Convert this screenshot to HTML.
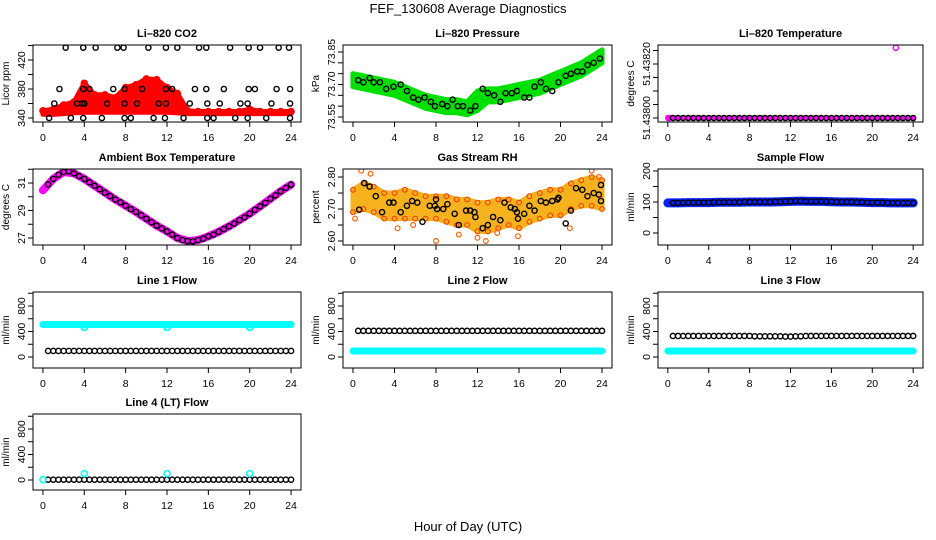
<!DOCTYPE html>
<html><head><meta charset="utf-8">
<style>
html,body{margin:0;padding:0;background:#fff;}
svg{display:block;font-family:"Liberation Sans",Arial,sans-serif;}
</style></head>
<body>
<svg id="fig" width="936" height="540" viewBox="0 0 936 540">
<text x="468" y="13" text-anchor="middle" font-size="13">FEF_130608  Average Diagnostics</text>
<text x="468" y="531" text-anchor="middle" font-size="13">Hour of Day (UTC)</text>
</svg>
<script>
// ---------- data ----------
const hoursHourly = [0,1,2,3,4,5,6,7,8,9,10,11,12,13,14,15,16,17,18,19,20,21,22,23,24];

// CO2
const co2BlackHours = [2.2,3.9,5.1,7.2,7.8,10.2,11.9,13,15.1,15.8,18.1,19.9,21,22.8,23.8,
  1.6,3.9,4.5,6.8,7.9,9.6,11.9,12.5,14.7,15.8,17.5,19.9,20.5,22.6,23.9,
  1.1,3.3,3.8,4,6.2,7.9,9.1,11.2,11.9,14.2,15.9,17.1,19.1,19.8,22.1,23.9,
  0.6,2.7,3.9,5.7,7.9,8.5,10.7,11.8,13.6,15.9,16.5,18.6,19.8,21.6,23.9];
const co2BlackValues = [437,437,437,437,437,437,437,437,437,437,437,437,437,437,437,
  380,380,380,380,380,380,380,380,380,380,380,380,380,380,380,
  360,360,360,360,360,360,360,360,360,360,360,360,360,360,360,360,
  340,340,340,340,340,340,340,340,340,340,340,340,340,340,340];
const co2RedLow  = [345,345,346,347,348,348,348,348,348,348,348,348,348,347,346,346,346,346,346,346,346,346,346,346,346];
const co2RedHigh = [350,352,358,362,388,372,372,368,382,386,394,393,382,374,350,349,349,349,349,349,352,349,349,349,349];

// Pressure
const presBlackHours = [0.5,1,1.6,2,2.6,3.2,3.9,4.6,5.2,5.8,6.3,6.9,7.5,7.9,8.6,9.1,9.6,10.1,10.6,11.3,11.8,12.5,13,13.6,14.2,14.7,15.3,15.8,16.5,17,17.5,18.1,18.6,19.2,19.8,20.5,21,21.6,22.1,22.6,23.2,23.8];
const presBlackValues = [73.72,73.71,73.73,73.71,73.71,73.68,73.69,73.70,73.67,73.64,73.63,73.64,73.62,73.60,73.61,73.60,73.63,73.60,73.60,73.58,73.60,73.68,73.66,73.65,73.62,73.66,73.66,73.67,73.64,73.64,73.69,73.71,73.68,73.67,73.71,73.74,73.75,73.76,73.76,73.79,73.80,73.82];
const presGreenLow  = [73.69,73.68,73.67,73.66,73.65,73.63,73.61,73.59,73.58,73.57,73.57,73.56,73.58,73.62,73.62,73.63,73.64,73.65,73.66,73.68,73.70,73.72,73.74,73.77,73.80];
const presGreenHigh = [73.75,73.74,73.73,73.72,73.71,73.69,73.67,73.65,73.64,73.63,73.63,73.62,73.67,73.68,73.68,73.69,73.70,73.71,73.72,73.74,73.76,73.78,73.80,73.83,73.86];

// Li-820 temperature
const ltempHours = [0.5,1,1.5,2,2.5,3,3.5,4,4.5,5,5.5,6,6.5,7,7.5,8,8.5,9,9.5,10,10.5,11,11.5,12,12.5,13,13.5,14,14.5,15,15.5,16,16.5,17,17.5,18,18.5,19,19.5,20,20.5,21,21.5,22,22.5,23,23.5,24];
const ltempValues = [51.438,51.438,51.438,51.438,51.438,51.438,51.438,51.438,51.438,51.438,51.438,51.438,51.438,51.438,51.438,51.438,51.438,51.438,51.438,51.438,51.438,51.438,51.438,51.438,51.438,51.438,51.438,51.438,51.438,51.438,51.438,51.438,51.438,51.438,51.438,51.438,51.438,51.438,51.438,51.438,51.438,51.438,51.438,51.438,51.438,51.438,51.438,51.438];
const ltempMagHours = [0.05,0.15,22.3];
const ltempMagValues = [51.438,51.438,51.43826];

// Ambient box temperature
const ambHours = [0.5,1,1.5,2,2.5,3,3.5,4,4.5,5,5.5,6,6.5,7,7.5,8,8.5,9,9.5,10,10.5,11,11.5,12,12.5,13,13.5,14,14.5,15,15.5,16,16.5,17,17.5,18,18.5,19,19.5,20,20.5,21,21.5,22,22.5,23,23.5,24];
const ambValues = [30.9,31.3,31.6,31.8,31.85,31.7,31.5,31.3,31.05,30.8,30.55,30.3,30.05,29.8,29.6,29.35,29.1,28.9,28.65,28.4,28.15,27.9,27.7,27.48,27.25,27.0,26.85,26.78,26.76,26.85,26.95,27.12,27.25,27.45,27.65,27.85,28.05,28.3,28.5,28.77,29.05,29.3,29.55,29.85,30.1,30.4,30.65,30.88];
const ambMagenta = [30.47,31.3,31.8,31.7,31.3,30.8,30.3,29.8,29.35,28.9,28.4,27.9,27.48,27.0,26.78,26.85,27.12,27.45,27.85,28.3,28.77,29.3,29.85,30.4,30.88];

// Gas stream RH
const rhBlackHours = [0.6,1.1,1.6,2.2,2.8,3.5,3.9,4.6,5.2,5.7,6.2,6.7,7.4,7.9,8,8.1,8.7,9.1,9.8,10.2,10.9,11.3,11.7,11.8,12.5,13,13.5,14.2,14.6,15.2,15.6,15.8,15.9,16.5,17,17.5,18.1,18.6,19.2,19.7,19.8,20.5,21,21.5,22.1,22.6,23.2,23.7,23.9,23.9];
const rhBlackValues = [2.698,2.781,2.77,2.74,2.69,2.72,2.72,2.69,2.71,2.725,2.72,2.66,2.71,2.71,2.73,2.70,2.70,2.715,2.685,2.65,2.695,2.695,2.69,2.675,2.64,2.65,2.675,2.665,2.72,2.705,2.70,2.69,2.67,2.685,2.71,2.695,2.725,2.72,2.725,2.73,2.735,2.655,2.695,2.765,2.76,2.74,2.75,2.745,2.775,2.725];
const rhOrangeLow  = [2.69,2.70,2.69,2.67,2.67,2.67,2.67,2.67,2.67,2.66,2.65,2.65,2.63,2.63,2.64,2.65,2.64,2.66,2.67,2.68,2.68,2.70,2.71,2.71,2.70];
const rhOrangeHigh = [2.76,2.78,2.77,2.75,2.75,2.76,2.75,2.74,2.74,2.74,2.73,2.73,2.72,2.72,2.73,2.73,2.72,2.74,2.75,2.76,2.76,2.78,2.79,2.80,2.79];
const rhOutHours = [0.2,0.8,1.7,4.3,5.8,8.0,10.2,12.0,12.8,13.9,15.9,20.9,23.0,23.7];
const rhOutValues = [2.67,2.82,2.81,2.64,2.65,2.60,2.62,2.61,2.60,2.625,2.615,2.64,2.82,2.80];

// Sample flow
const sampleValues = [97,97,98,98,98,99,99,99,100,100,100,101,102,103,102,102,101,100,100,99,98,98,97,97,97];

// Line flows (hourly black and cyan)
const line1Black = [95,95,95,95,95,95,95,95,95,95,95,95,95,95,95,95,95,95,95,95,95,95,95,95,95];
const line1Cyan  = [510,510,510,510,510,510,510,510,510,510,510,510,510,510,510,510,510,510,510,510,510,510,510,510,510];
const line1CyanDipHours = [4,12,20];
const line1CyanDipValues = [465,465,465];
const line2Black = [410,410,410,410,410,410,410,410,410,410,410,410,410,410,410,410,410,410,410,410,410,410,410,410,410];
const line2Cyan  = [95,95,95,95,95,95,95,95,95,95,95,95,95,95,95,95,95,95,95,95,95,95,95,95,95];
const line3Black = [330,330,330,330,330,330,330,330,330,325,325,325,320,325,330,330,330,330,330,330,330,330,330,330,330];
const line3Cyan  = [95,95,95,95,95,95,95,95,95,95,95,95,95,95,95,95,95,95,95,95,95,95,95,95,95];
const line4Black = [5,5,5,5,5,5,5,5,5,5,5,5,5,5,5,5,5,5,5,5,5,5,5,5,5];
const line4CyanHours = [0,4,12,20];
const line4CyanValues = [5,100,100,100];

const xTicks = [0,4,8,12,16,20,24];

// ---------- drawing ----------
const NS = 'http://www.w3.org/2000/svg';
const svg = document.getElementById('fig');
function mk(tag, attrs, parent) {
  const e = document.createElementNS(NS, tag);
  for (const k in attrs) e.setAttribute(k, attrs[k]);
  (parent || svg).appendChild(e);
  return e;
}
function panel(key, title, ylab, box, v0, y0, v1, y1, yTicks, yLabels, yFmt) {
  const g = mk('g', {});
  
  
  const [bx0, bx1, by0, by1] = box;
  const xs = h => bx0 + (bx1 - bx0) * (h + 0.96) / 25.92;
  const ys = v => y0 + (v - v0) * (y1 - y0) / (v1 - v0);
  const t = mk('text', {x: (bx0 + bx1) / 2, y: by0 - 8, 'text-anchor': 'middle', 'font-size': 11, 'font-weight': 'bold'}, g);
  t.textContent = title;
  
  
  const yl = mk('text', {x: 0, y: 0, transform: `translate(${bx0 - 24},${(by0 + by1) / 2}) rotate(-90)`, 'text-anchor': 'middle', 'font-size': 10}, g);
  yl.textContent = ylab;
  
  
  const xa = mk('g', {}, g);
  
  
  mk('line', {x1: xs(0), x2: xs(24), y1: by1, y2: by1, stroke: '#000'}, xa);
  xTicks.forEach(h => {
    mk('line', {x1: xs(h), x2: xs(h), y1: by1, y2: by1 + 5, stroke: '#000'}, xa);
    const tl = mk('text', {x: xs(h), y: by1 + 19, 'text-anchor': 'middle', 'font-size': 10.5}, xa);
    tl.textContent = h;
  });
  const ya = mk('g', {}, g);
  
  
  mk('line', {x1: bx0, x2: bx0, y1: ys(yTicks[0]), y2: ys(yTicks[yTicks.length - 1]), stroke: '#000'}, ya);
  yTicks.forEach(v => {
    mk('line', {x1: bx0 - 5, x2: bx0, y1: ys(v), y2: ys(v), stroke: '#000'}, ya);
  });
  yLabels.forEach(v => {
    const tl = mk('text', {x: 0, y: 0, transform: `translate(${bx0 - 8},${ys(v)}) rotate(-90)`, 'text-anchor': 'middle', 'font-size': 10.5}, ya);
    tl.textContent = yFmt ? yFmt(v) : v;
  });
  const clipId = 'c' + key;
  const cp = mk('clipPath', {id: clipId}, g);
  mk('rect', {x: bx0, y: by0, width: bx1 - bx0, height: by1 - by0}, cp);
  const data = mk('g', {'clip-path': `url(#${clipId})`}, g);
  mk('rect', {x: bx0, y: by0, width: bx1 - bx0, height: by1 - by0, fill: 'none', stroke: '#000'}, g);
  return {xs, ys, data};
}
function band(p, hours, lo, hi, color, name) {
  let d = '';
  hours.forEach((h, i) => { d += (i ? 'L' : 'M') + p.xs(h) + ',' + p.ys(hi[i]); });
  for (let i = hours.length - 1; i >= 0; i--) d += 'L' + p.xs(hours[i]) + ',' + p.ys(lo[i]);
  const e = mk('path', {d: d + 'Z', fill: color, stroke: color, 'stroke-width': 5, 'stroke-linejoin': 'round'}, p.data);
  
  
  return e;
}
function thick(p, hours, vals, color, name, w) {
  let d = '';
  hours.forEach((h, i) => { d += (i ? 'L' : 'M') + p.xs(h) + ',' + p.ys(vals[i]); });
  const e = mk('path', {d, fill: 'none', stroke: color, 'stroke-width': w, 'stroke-linejoin': 'round', 'stroke-linecap': 'round'}, p.data);
  
  
  return e;
}
function pts(p, hours, vals, color, name, r, sw) {
  const g = mk('g', {}, p.data);
  
  
  hours.forEach((h, i) => {
    mk('circle', {cx: p.xs(h), cy: p.ys(vals[i]), r: r || 2.6, fill: 'none', stroke: color, 'stroke-width': sw || 1.4}, g);
  });
  return g;
}
const C1 = [33, 301], C2 = [343, 612], C3 = [658, 923];
const R1 = [45, 122], R2 = [169, 245], R3 = [292, 368], R4 = [414, 490];
const B = (c, r) => [c[0], c[1], r[0], r[1]];

// CO2
let p = panel('co2', 'Li\u2013820 CO2', 'Licor ppm', B(C1, R1), 340, 118, 420, 60, [340,360,380,400,420,440], [340,380,420]);
band(p, hoursHourly, co2RedLow, co2RedHigh, '#ff0000', 'co2-red-cloud');
pts(p, hoursHourly, co2RedHigh, '#ff0000', 'co2-red-points', 3, 1.5);
pts(p, co2BlackHours, co2BlackValues, '#000', 'co2-black-points');

// Pressure
p = panel('pressure', 'Li\u2013820 Pressure', 'kPa', B(C2, R1), 73.55, 117, 73.85, 52, [73.55,73.60,73.65,73.70,73.75,73.80,73.85], [73.55,73.70,73.85], v => v.toFixed(2));
band(p, hoursHourly, presGreenLow, presGreenHigh, '#00e000', 'pressure-green-cloud');
pts(p, presBlackHours, presBlackValues, '#000', 'pressure-black-points');

// Li-820 temperature
p = panel('litemp', 'Li\u2013820 Temperature', 'degrees C', B(C3, R1), 51.438, 118, 51.4382, 64, [51.438,51.43805,51.4381,51.43815,51.4382,51.43825], [51.438,51.4382], v => v.toFixed(5));
thick(p, [0, 24], [51.438, 51.438], '#ff00ff', 'litemp-magenta-band', 4);
pts(p, ltempMagHours, ltempMagValues, '#ff00ff', 'litemp-magenta-points');
pts(p, ltempHours, ltempValues, '#000', 'litemp-black-points');

// Ambient
p = panel('ambient', 'Ambient Box Temperature', 'degrees C', B(C1, R2), 27, 238, 31, 183, [27,28,29,30,31,32], [27,29,31]);
thick(p, hoursHourly, ambMagenta, '#ff00ff', 'ambient-magenta-line', 8);
pts(p, ambHours, ambValues, '#000', 'ambient-black-points');

// RH
p = panel('rh', 'Gas Stream RH', 'percent', B(C2, R2), 2.60, 241, 2.80, 177, [2.60,2.65,2.70,2.75,2.80], [2.60,2.70,2.80], v => v.toFixed(2));
band(p, hoursHourly, rhOrangeLow, rhOrangeHigh, '#f5b21c', 'rh-orange-cloud');
pts(p, hoursHourly, rhOrangeHigh, '#ff3000', 'rh-red-points-high', 2.4, 1);
pts(p, hoursHourly, rhOrangeLow, '#ff3000', 'rh-red-points-low', 2.4, 1);
pts(p, rhOutHours, rhOutValues, '#ff6000', 'rh-outliers', 2.4, 1.2);
pts(p, rhBlackHours, rhBlackValues, '#000', 'rh-black-points');

// Sample flow
p = panel('sample', 'Sample Flow', 'ml/min', B(C3, R2), 0, 233, 200, 171, [0,50,100,150,200], [0,100,200]);
thick(p, hoursHourly, sampleValues, '#0020ff', 'sample-blue-band', 9);
pts(p, ltempHours, ltempHours.map(h => sampleValues[Math.round(h)]), '#000', 'sample-black-points');

// Flows
function flowPanel(key, title, box, y0, y800, black, cyan) {
  const q = panel(key, title, 'ml/min', box, 0, y0, 800, y800, [0,200,400,600,800,1000], [0,400,800]);
  if (cyan) thick(q, hoursHourly, cyan, '#00ffff', key + '-cyan-band', 7);
  pts(q, ltempHours, ltempHours.map(h => black[Math.round(h)]), '#000', key + '-black-points');
  return q;
}
p = flowPanel('line1', 'Line 1 Flow', B(C1, R3), 357, 306, line1Black, line1Cyan);
pts(p, line1CyanDipHours, line1CyanDipValues, '#00ffff', 'line1-cyan-dips', 3, 1.8);
flowPanel('line2', 'Line 2 Flow', B(C2, R3), 357, 306, line2Black, line2Cyan);
flowPanel('line3', 'Line 3 Flow', B(C3, R3), 357, 306, line3Black, line3Cyan);
p = flowPanel('line4', 'Line 4 (LT) Flow', B(C1, R4), 480, 429, line4Black, null);
pts(p, line4CyanHours, line4CyanValues, '#00ffff', 'line4-cyan-points', 3, 1.6);
</script>
</body></html>
